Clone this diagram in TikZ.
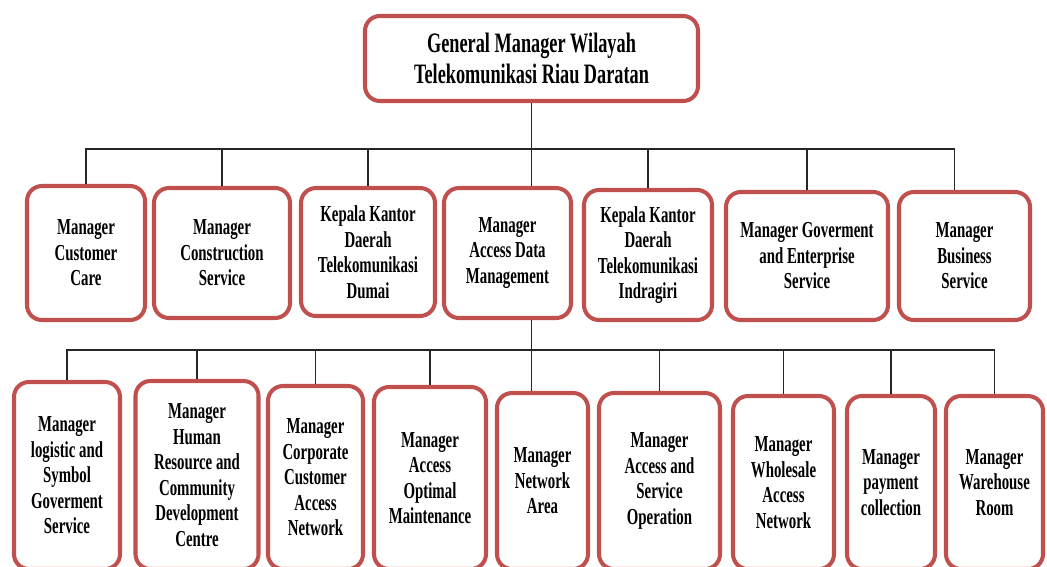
\documentclass[tikz,border=0pt]{standalone}
\usepackage{fontspec}
\setmainfont{Liberation Serif}[FakeStretch=0.65]
\usetikzlibrary{calc}
\definecolor{boxred}{RGB}{192,80,77}

\begin{document}
\begin{tikzpicture}[x=0.02cm,y=-0.02cm,
		unit/.style={draw=boxred,line width=2.3pt,rounded corners=8.5pt,fill=white,align=center,inner sep=0pt,
			font=\bfseries\fontsize{13}{14.5}\selectfont},
		boxsize/.style 2 args={minimum width=#1*0.02cm,minimum height=#2*0.02cm},
		link/.style={draw=black!85,line width=0.7pt}]
				\useasboundingbox (0,0) rectangle (1047,566);
				\clip (0,0) rectangle (1047,566);
				
				\node[unit,boxsize={333}{85},font=\bfseries\fontsize{16}{18}\selectfont] (gm) at (531.5,58.5) {General Manager Wilayah\\Telekomunikasi Riau Daratan};
				
				\node[unit,boxsize={118}{134}] (cc) at (86,253) {Manager\\Customer\\Care};
				\node[unit,boxsize={136}{130}] (cs) at (222,253) {Manager\\Construction\\Service};
				\node[unit,boxsize={134}{128}] (dm) at (368,252) {Kepala Kantor\\Daerah\\Telekomunikasi\\Dumai};
				\node[unit,boxsize={127}{130}] (adm) at (507.5,253) {Manager\\Access Data\\Management};
				\node[unit,boxsize={128}{130}] (ig) at (648,255) {Kepala Kantor\\Daerah\\Telekomunikasi\\Indragiri};
				\node[unit,boxsize={162}{128}] (ges) at (807,256) {Manager Goverment\\and Enterprise\\Service};
				\node[unit,boxsize={131}{128}] (bs) at (964.5,256) {Manager\\Business\\Service};
				
				\node[unit,boxsize={106}{187}] (lsg) at (67,475.5) {Manager\\logistic and\\Symbol\\Goverment\\Service};
				\node[unit,boxsize={123}{188}] (hr) at (197,475) {Manager\\Human\\Resource and\\Community\\Development\\Centre};
				\node[unit,boxsize={95}{183}] (cca) at (315.5,477.5) {Manager\\Corporate\\Customer\\Access\\Network};
				\node[unit,boxsize={112}{182}] (aom) at (430,478) {Manager\\Access\\Optimal\\Maintenance};
				\node[unit,boxsize={91}{176}] (na) at (542.5,481) {Manager\\Network\\Area};
				\node[unit,boxsize={121}{176}] (aso) at (659.5,481) {Manager\\Access and\\Service\\Operation};
				\node[unit,boxsize={101}{173}] (wan) at (783.5,482.5) {Manager\\Wholesale\\Access\\Network};
				\node[unit,boxsize={88}{173}] (pc) at (891,482.5) {Manager\\payment\\collection};
				\node[unit,boxsize={97}{173}] (wr) at (994.5,482.5) {Manager\\Warehouse\\Room};
				
				\coordinate (busA) at (531,149);
				\coordinate (busB) at (531,350);
				\coordinate (bstop) at ($(bs.north)+(-10,0)$);
				
				\draw[link] (gm.south) -- (adm.north -| gm.south);
				\draw[link] (cc.north) -- (cc.north |- busA) -- (busA -| bstop) -- (bstop);
				\foreach \n in {cs,dm,ig,ges}
					\draw[link] (\n.north) -- (\n.north |- busA);
				
				\draw[link] (adm.south -| gm.south) -- (na.north -| gm.south);
				\draw[link] (lsg.north) -- (lsg.north |- busB) -- (busB -| wr.north) -- (wr.north);
				\foreach \n in {hr,cca,aom,aso,wan,pc}
					\draw[link] (\n.north) -- (\n.north |- busB);
			\end{tikzpicture}
\end{document}
